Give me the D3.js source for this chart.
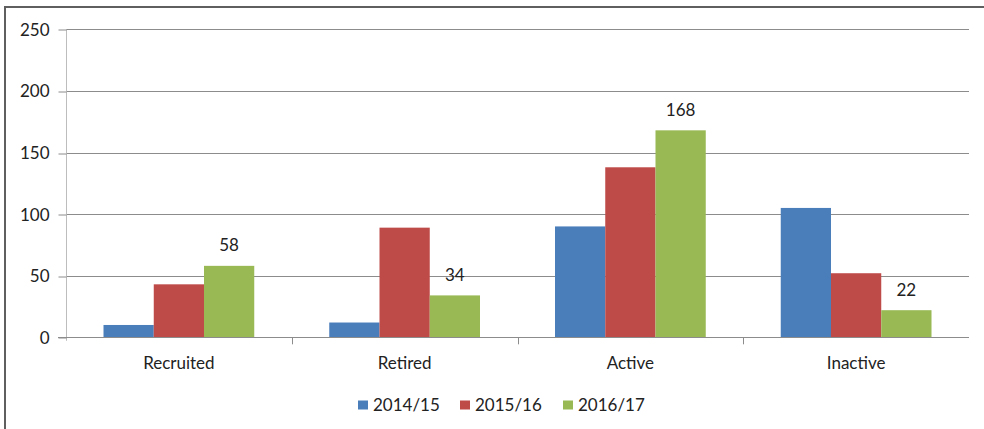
<!DOCTYPE html>
<html><head><meta charset="utf-8">
<script src="https://cdn.jsdelivr.net/npm/d3@7"></script>
<style>
body{margin:0;background:#fff;}
svg{display:block;font-family:Lato,"Open Sans",sans-serif;}
</style></head>
<body>
<svg id="chart" width="984" height="429"></svg>
<script>
const categories = ["Recruited","Retired","Active","Inactive"];
const seriesNames = ["2014/15","2015/16","2016/17"];
const s2014 = [10, 12, 90, 105];
const s2015 = [43, 89, 138, 52];
const s2016 = [58, 34, 168, 22];
const labelled = [false, false, true];
const colors = ["#4A7EBB","#BE4B48","#98B954"];
const yTicks = [0,50,100,150,200,250];

const seriesValues = [s2014, s2015, s2016];
const svg = d3.select("#chart");
const FS = 17;

// outer border
svg.append("rect").attr("x",5).attr("y",7).attr("width",984).attr("height",440)
  .attr("fill","none").attr("stroke","#5f5f5f").attr("stroke-width",2);

const pLeft=66, pRight=969, pTop=29.3, pBottom=337.3;
const x = d3.scaleBand().domain(categories).range([pLeft,pRight]).paddingInner(0).paddingOuter(0);
const groupPad = 37.5/225.75;
const xs = d3.scaleBand().domain(seriesNames).range([x.bandwidth()*groupPad, x.bandwidth()*(1-groupPad)]);
const y = d3.scaleLinear().domain([0,250]).range([pBottom,pTop]);

// gridlines
svg.append("g").selectAll("line").data(yTicks.filter(d=>d>0)).join("line")
  .attr("x1",pLeft).attr("x2",pRight).attr("y1",d=>Math.round(y(d))+0.5).attr("y2",d=>Math.round(y(d))+0.5)
  .attr("stroke","#8c8c8c").attr("stroke-width",1);

// y axis
const yAxis = d3.axisLeft(y).tickValues(yTicks).tickSize(8).tickPadding(9);
const ga = svg.append("g").attr("transform",`translate(${pLeft+0.5},0.5)`).call(yAxis);
ga.select(".domain").attr("d",`M0,${pTop-0.5}V${pBottom+3}`).attr("stroke","#bdbdbd");
ga.selectAll(".tick line").attr("stroke","#8c8c8c").attr("transform",d=>`translate(0,${Math.round(y(d))-y(d)})`);
ga.selectAll(".tick text").attr("font-size",FS).attr("fill","#222").attr("font-family","Lato,'Open Sans',sans-serif");

// bars
const groups = svg.append("g").selectAll("g").data(categories).join("g")
  .attr("transform",d=>`translate(${x(d)},0)`);
groups.selectAll("rect").data((c,i)=>seriesNames.map((s,j)=>({s,j,v:seriesValues[j][i]}))).join("rect")
  .attr("x",d=>xs(d.s)).attr("width",xs.bandwidth())
  .attr("y",d=>y(d.v)).attr("height",d=>pBottom-y(d.v))
  .attr("fill",d=>colors[d.j]);
groups.selectAll("text").data((c,i)=>seriesNames.map((s,j)=>({s,j,v:seriesValues[j][i]})).filter(d=>labelled[d.j])).join("text")
  .attr("x",d=>xs(d.s)+xs.bandwidth()/2).attr("y",d=>y(d.v)-14.5)
  .attr("text-anchor","middle").attr("font-size",FS).attr("fill","#222").text(d=>d.v);

// x axis
const xAxis = d3.axisBottom(x).tickSize(0).tickPadding(19);
const gx = svg.append("g").attr("transform",`translate(0,${Math.round(pBottom)+0.5})`).call(xAxis);
gx.select(".domain").attr("d",`M${pLeft-8},0H${pRight}`).attr("stroke","#8c8c8c");
gx.selectAll(".tick text").attr("font-size",FS).attr("fill","#222").attr("font-family","Lato,'Open Sans',sans-serif");
// category separator ticks
svg.append("g").selectAll("line").data(categories.slice(1)).join("line")
  .attr("x1",d=>Math.round(x(d))+0.5).attr("x2",d=>Math.round(x(d))+0.5)
  .attr("y1",pBottom).attr("y2",pBottom+7).attr("stroke","#8c8c8c");

// legend
const legendX = [358, 460, 563];
const lg = svg.append("g").selectAll("g").data(seriesNames).join("g")
  .attr("transform",(d,i)=>`translate(${legendX[i]},405)`);
lg.append("rect").attr("x",0).attr("y",-4.5).attr("width",10).attr("height",9).attr("fill",(d,i)=>colors[i]);
lg.append("text").attr("x",15).attr("y",6).attr("font-size",FS).attr("fill","#222").text(d=>d);
</script>
</body></html>
